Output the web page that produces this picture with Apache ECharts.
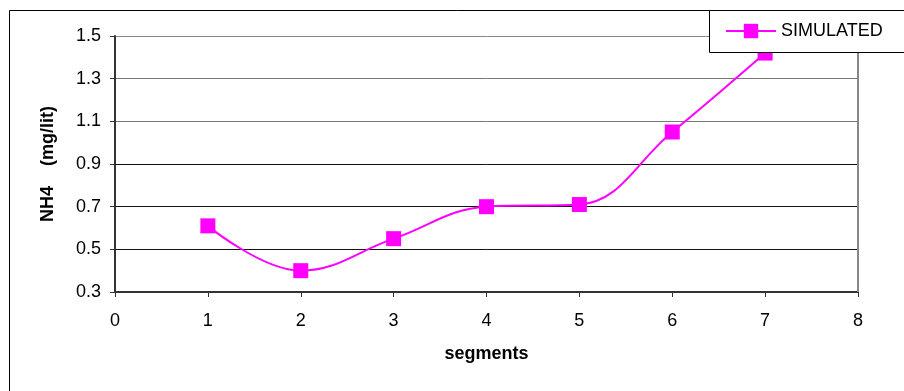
<!DOCTYPE html>
<html>
<head>
<meta charset="utf-8">
<script src="https://cdn.jsdelivr.net/npm/echarts@6/dist/echarts.min.js"></script>
<style>
  html, body { margin: 0; padding: 0; background: #fff; }
  #chart { width: 904px; height: 391px; }
</style>
</head>
<body>
<div id="chart"></div>
<script>
// NH4 concentration along the river segments
const segments = [1, 2, 3, 4, 5, 6, 7];
const simulated = [0.61, 0.40, 0.55, 0.70, 0.71, 1.05, 1.42];
const seriesName = 'SIMULATED';
const xTitle = 'segments';
const yTitle = 'NH4    (mg/lit)';

const font = '"Liberation Sans", Arial, sans-serif';
const fs = 18;
const chart = echarts.init(document.getElementById('chart'));

chart.setOption({
  animation: false,
  backgroundColor: '#fff',
  textStyle: { fontFamily: font },
  graphic: [
    {
      // chart frame, running off the right and bottom edges
      type: 'rect',
      shape: { x: 9.5, y: 10.5, width: 1000, height: 1000 },
      style: { fill: 'none', stroke: '#000', lineWidth: 1 },
      silent: true,
      z: -1
    },
    {
      // legend frame, also running off the right edge
      type: 'rect',
      shape: { x: 709.5, y: 10.5, width: 300, height: 42 },
      style: { fill: '#fff', stroke: '#000', lineWidth: 1 },
      silent: true,
      z: 10
    }
  ],
  grid: { left: 115, top: 36, right: 46, bottom: 99 },
  legend: {
    left: 709,
    top: 10,
    padding: [12, 16, 12, 16],
    z: 20,
    itemWidth: 50,
    itemHeight: 18,
    textStyle: { fontFamily: font, fontSize: fs, color: '#000' },
    data: [seriesName]
  },
  xAxis: {
    type: 'value',
    min: 0,
    max: 8,
    interval: 1,
    name: xTitle,
    nameLocation: 'middle',
    nameGap: 53,
    nameTextStyle: { fontFamily: font, fontSize: fs, fontWeight: 'bold', color: '#000' },
    axisLine: { lineStyle: { color: '#333', width: 2 } },
    axisTick: { show: true, length: 5, lineStyle: { color: '#333', width: 1 } },
    axisLabel: { margin: 20, fontSize: fs, color: '#000', fontFamily: font },
    splitLine: { show: false }
  },
  yAxis: {
    type: 'value',
    min: 0.3,
    max: 1.5,
    interval: 0.2,
    name: yTitle,
    nameLocation: 'middle',
    nameGap: 58,
    nameTextStyle: { fontFamily: font, fontSize: fs, fontWeight: 'bold', color: '#000' },
    axisLine: { show: true, lineStyle: { color: '#333', width: 2 } },
    axisTick: { show: true, length: 5, lineStyle: { color: '#333', width: 1 } },
    axisLabel: {
      margin: 14,
      fontSize: fs,
      color: '#000',
      fontFamily: font,
      formatter: v => v.toFixed(1)
    },
    splitLine: {
      show: true,
      lineStyle: { color: ['#000', '#111', '#111', '#111', '#777', '#777', '#888'], width: 1 }
    }
  },
  series: [
    {
      name: seriesName,
      type: 'line',
      smooth: 0.4,
      data: segments.map((s, i) => [s, simulated[i]]),
      symbol: 'rect',
      symbolSize: 15,
      itemStyle: { color: '#FF00FF' },
      lineStyle: { color: '#FF00FF', width: 2 },
      markLine: {
        silent: true,
        symbol: 'none',
        label: { show: false },
        lineStyle: { color: '#888', width: 2, type: 'solid' },
        data: [{ xAxis: 8 }]
      },
      z: 3
    }
  ]
});
</script>
</body>
</html>
